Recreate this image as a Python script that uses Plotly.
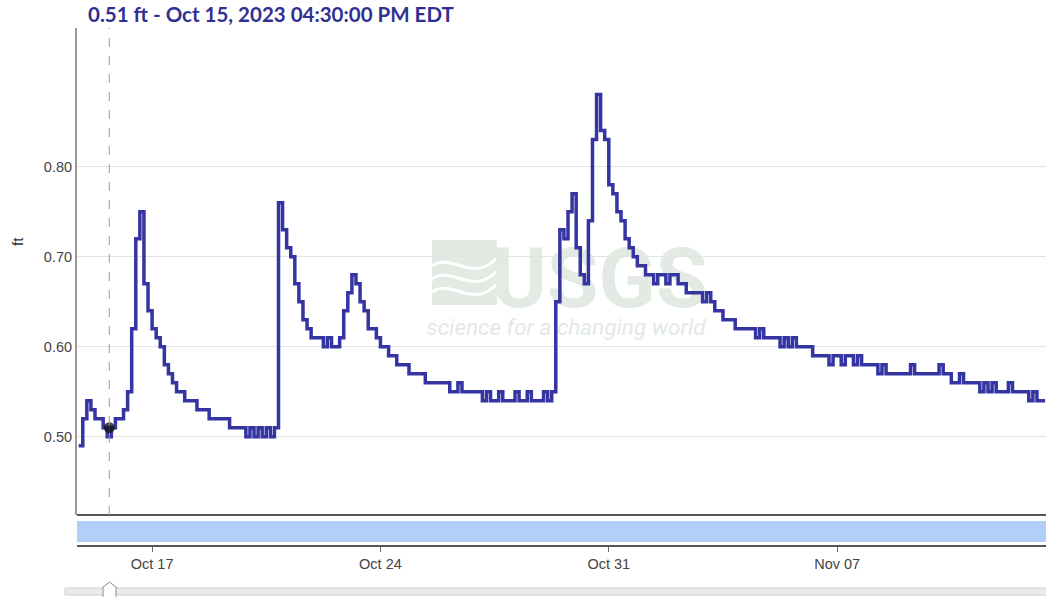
import pandas as pd
import plotly.graph_objects as go

# ---------------- data ----------------
series_start = "2023-10-14 18:00"
series_step = "3h"
gage_ft = [
    0.49, 0.52,                                        # Oct 14 18h, 21h
    0.54, 0.53, 0.52, 0.52, 0.51, 0.50, 0.51, 0.52,    # Oct 15
    0.52, 0.53, 0.55, 0.62, 0.72, 0.75, 0.67, 0.64,    # Oct 16
    0.62, 0.61, 0.60, 0.58, 0.57, 0.56, 0.55, 0.55,    # Oct 17
    0.54, 0.54, 0.54, 0.53, 0.53, 0.53, 0.52, 0.52,    # Oct 18
    0.52, 0.52, 0.52, 0.51, 0.51, 0.51, 0.51, 0.50,    # Oct 19
    0.51, 0.50, 0.51, 0.50, 0.51, 0.50, 0.51, 0.76,    # Oct 20
    0.73, 0.71, 0.70, 0.67, 0.65, 0.63, 0.62, 0.61,    # Oct 21
    0.61, 0.61, 0.60, 0.61, 0.60, 0.60, 0.61, 0.64,    # Oct 22
    0.66, 0.68, 0.67, 0.65, 0.64, 0.62, 0.62, 0.61,    # Oct 23
    0.60, 0.60, 0.59, 0.59, 0.58, 0.58, 0.58, 0.57,    # Oct 24
    0.57, 0.57, 0.57, 0.56, 0.56, 0.56, 0.56, 0.56,    # Oct 25
    0.56, 0.55, 0.55, 0.56, 0.55, 0.55, 0.55, 0.55,    # Oct 26
    0.55, 0.54, 0.55, 0.54, 0.54, 0.55, 0.54, 0.54,    # Oct 27
    0.54, 0.55, 0.54, 0.54, 0.55, 0.54, 0.54, 0.54,    # Oct 28
    0.55, 0.54, 0.55, 0.65, 0.73, 0.72, 0.75, 0.77,    # Oct 29
    0.71, 0.68, 0.67, 0.74, 0.83, 0.88, 0.84, 0.83,    # Oct 30
    0.78, 0.77, 0.75, 0.74, 0.72, 0.71, 0.70, 0.69,    # Oct 31
    0.69, 0.68, 0.68, 0.67, 0.68, 0.68, 0.67, 0.68,    # Nov 01
    0.68, 0.67, 0.67, 0.66, 0.66, 0.66, 0.66, 0.65,    # Nov 02
    0.66, 0.65, 0.64, 0.64, 0.63, 0.63, 0.63, 0.62,    # Nov 03
    0.62, 0.62, 0.62, 0.62, 0.61, 0.62, 0.61, 0.61,    # Nov 04
    0.61, 0.61, 0.60, 0.61, 0.60, 0.61, 0.60, 0.60,    # Nov 05
    0.60, 0.60, 0.59, 0.59, 0.59, 0.59, 0.58, 0.59,    # Nov 06
    0.59, 0.58, 0.59, 0.59, 0.58, 0.59, 0.58, 0.58,    # Nov 07
    0.58, 0.58, 0.57, 0.58, 0.57, 0.57, 0.57, 0.57,    # Nov 08
    0.57, 0.57, 0.58, 0.57, 0.57, 0.57, 0.57, 0.57,    # Nov 09
    0.57, 0.58, 0.57, 0.57, 0.56, 0.56, 0.57, 0.56,    # Nov 10
    0.56, 0.56, 0.56, 0.55, 0.56, 0.55, 0.56, 0.55,    # Nov 11
    0.55, 0.55, 0.56, 0.55, 0.55, 0.55, 0.55, 0.54,    # Nov 12
    0.55, 0.54, 0.54, 0.54,                            # Nov 13
]
times = pd.date_range(series_start, periods=len(gage_ft), freq=series_step)

selected_time = "2023-10-15 16:30"
selected_value = 0.51
title_text = "0.51 ft - Oct 15, 2023 04:30:00 PM EDT"
y_tickvals = [0.50, 0.60, 0.70, 0.80]
x_range = ["2023-10-14 16:45", "2023-11-13 09:40"]
y_range = [0.413, 0.954]
unit_label = "ft"

# ---------------- layout helpers (window pixel -> paper) ----------------
OFF = 0                              # page body margin removed via post_script
PL, PR, PT, PB = 77, 1046, 28, 546   # plot area in window pixels
W, H = 1046 - OFF, 597 - OFF         # figure size
ML, MT = PL - OFF, PT - OFF
MR = W - (PR - OFF)
MB = H - (PB - OFF)
PW, PH = PR - PL, PB - PT


def fx(x):
    return (x - PL) / PW


def fy(y):
    return (PB - y) / PH


LINE_COLOR = "#3434a2"
TITLE_COLOR = "#303093"
WM = "rgb(227,234,227)"

fig = go.Figure()
fig.add_trace(go.Scatter(
    x=times, y=gage_ft, mode="lines",
    line=dict(color=LINE_COLOR, width=3.5, shape="hv"),
    hoverinfo="skip", showlegend=False,
))
fig.add_trace(go.Scatter(
    x=[selected_time], y=[selected_value], mode="markers",
    marker=dict(color="rgba(20,20,20,0.8)", size=11),
    hoverinfo="skip", showlegend=False,
))

shapes = []
# watermark icon
shapes.append(dict(type="rect", xref="paper", yref="paper", layer="below",
                   x0=fx(432), x1=fx(497), y0=fy(305), y1=fy(240),
                   fillcolor=WM, line=dict(width=0)))
for dy in (0, 13, 26):
    p = "M {:.4f},{:.4f} C {:.4f},{:.4f} {:.4f},{:.4f} {:.4f},{:.4f}".format(
        fx(432), fy(266 + dy), fx(452), fy(252 + dy), fx(472), fy(284 + dy), fx(497), fy(258 + dy))
    shapes.append(dict(type="path", xref="paper", yref="paper", layer="below",
                       path=p, line=dict(color="white", width=3)))
# watermark text
shapes.append(dict(type="rect", xref="paper", yref="paper", layer="below",
                   x0=fx(497), x1=fx(702), y0=fy(308), y1=fy(236),
                   line=dict(width=0), fillcolor="rgba(0,0,0,0)",
                   label=dict(text="USGS", textposition="middle center",
                              font=dict(family="Roboto", size=84, color=WM, weight="bold"))))
shapes.append(dict(type="rect", xref="paper", yref="paper", layer="below",
                   x0=fx(430), x1=fx(702), y0=fy(338), y1=fy(312),
                   line=dict(width=0), fillcolor="rgba(0,0,0,0)",
                   label=dict(text="science for a changing world", textposition="middle center",
                              font=dict(family="Roboto", size=22.5, color=WM, style="italic"))))
# bottom border of main plot
shapes.append(dict(type="line", xref="paper", yref="y domain", x0=0, x1=1, y0=0, y1=0,
                   line=dict(color="#555555", width=2)))
# selected-time dashed line
shapes.append(dict(type="line", xref="x", yref="y domain", x0=selected_time, x1=selected_time,
                   y0=0, y1=1, line=dict(color="#9a9a9a", width=1, dash="dash")))
# approval band
shapes.append(dict(type="rect", xref="paper", yref="paper", x0=0, x1=1,
                   y0=fy(542), y1=fy(521), fillcolor="#b1cff8", line=dict(width=0)))
# slider track and handle
shapes.append(dict(type="rect", xref="paper", yref="paper", x0=fx(65), x1=fx(1070),
                   y0=fy(595), y1=fy(588), fillcolor="#ebebeb",
                   line=dict(color="#d0d0d0", width=1)))
hp = "M {a},{b} L {a},{c} L {m},{d} L {e},{c} L {e},{b} Z".format(
    a=fx(103), b=fy(600), c=fy(587), m=fx(109.5), d=fy(582), e=fx(116))
shapes.append(dict(type="path", xref="paper", yref="paper", path=hp,
                   fillcolor="white", line=dict(color="#8a8a8a", width=1)))

annotations = [
    dict(text=title_text, xref="paper", yref="paper", x=fx(86), y=fy(14),
         xanchor="left", yanchor="middle", showarrow=False,
         font=dict(family="Lato", size=20.5, color=TITLE_COLOR, weight="bold")),
    dict(text=unit_label, xref="paper", yref="paper", x=fx(18), y=fy(242),
         xanchor="center", yanchor="middle", showarrow=False, textangle=-90,
         font=dict(family="Liberation Sans", size=15, color="#333333")),
]

fig.update_layout(
    width=W, height=H,
    margin=dict(l=ML, r=MR, t=MT, b=MB, pad=0),
    paper_bgcolor="white", plot_bgcolor="rgba(0,0,0,0)",
    showlegend=False,
    shapes=shapes, annotations=annotations,
    xaxis=dict(range=x_range, type="date", anchor="free", position=0,
               tick0="2023-10-17", dtick=7 * 86400000, tickformat="%b %d",
               ticks="outside", ticklen=5, tickcolor="#666666", tickwidth=1,
               showline=True, linecolor="#555555", linewidth=2,
               showgrid=False, zeroline=False,
               tickfont=dict(family="Liberation Sans", size=14.5, color="#444444")),
    yaxis=dict(range=y_range, domain=[fy(515), 1], anchor="x",
               tickvals=y_tickvals, tickformat=".2f",
               showline=True, linecolor="#9a9a9a", linewidth=2,
               showgrid=True, gridcolor="#e3e3e3", gridwidth=1,
               zeroline=False, ticks="",
               tickfont=dict(family="Liberation Sans", size=14.5, color="#444444")),
)

fig.write_html("out.html",
               config={"displayModeBar": False},
               post_script="document.body.style.margin='0';document.body.style.overflow='hidden';")
